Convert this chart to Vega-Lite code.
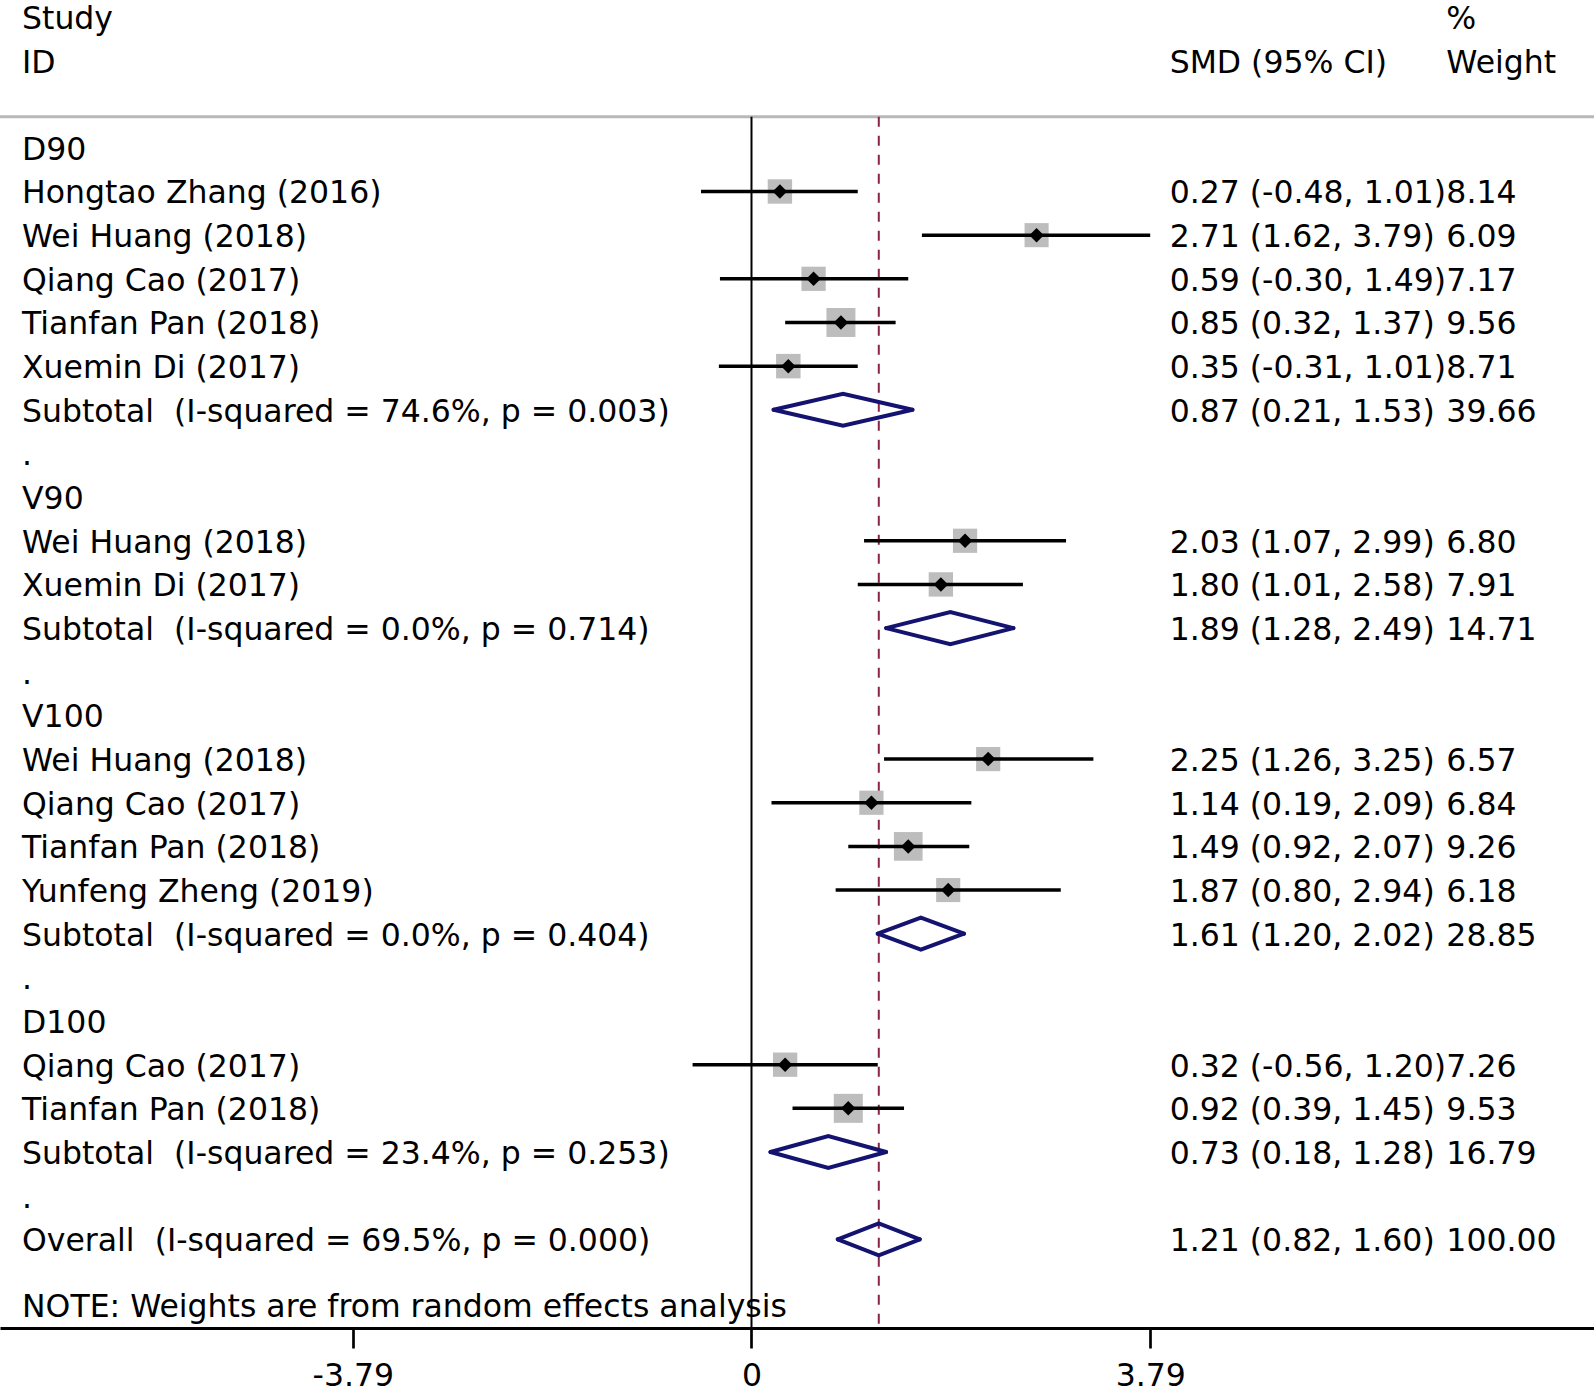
{
  "$schema": "https://vega.github.io/schema/vega-lite/v6.json",
  "width": 1594,
  "height": 1328,
  "autosize": {"type": "none"},
  "padding": {"left": 0, "top": 0, "right": 0, "bottom": 65},
  "background": "white",
  "config": {
    "view": {"stroke": null},
    "font": "DejaVu Sans",
    "text": {"font": "DejaVu Sans", "fontSize": 31.5, "color": "black"}
  },
  "datasets": {
    "forest": [
      {"row": -3, "label": "Study", "kind": "header", "wt": "%"},
      {"row": -2, "label": "ID", "kind": "header", "smd": "SMD (95% CI)", "wt": "Weight"},
      {"row": 0, "label": "D90", "kind": "group"},
      {"row": 1, "label": "Hongtao Zhang (2016)", "kind": "study", "est": 0.27, "lo": -0.48, "hi": 1.01, "w": 8.14, "smd": "0.27 (-0.48, 1.01)", "wt": "8.14"},
      {"row": 2, "label": "Wei Huang (2018)", "kind": "study", "est": 2.71, "lo": 1.62, "hi": 3.79, "w": 6.09, "smd": "2.71 (1.62, 3.79)", "wt": "6.09"},
      {"row": 3, "label": "Qiang Cao (2017)", "kind": "study", "est": 0.59, "lo": -0.30, "hi": 1.49, "w": 7.17, "smd": "0.59 (-0.30, 1.49)", "wt": "7.17"},
      {"row": 4, "label": "Tianfan Pan (2018)", "kind": "study", "est": 0.85, "lo": 0.32, "hi": 1.37, "w": 9.56, "smd": "0.85 (0.32, 1.37)", "wt": "9.56"},
      {"row": 5, "label": "Xuemin Di (2017)", "kind": "study", "est": 0.35, "lo": -0.31, "hi": 1.01, "w": 8.71, "smd": "0.35 (-0.31, 1.01)", "wt": "8.71"},
      {"row": 6, "label": "Subtotal\u00a0 (I-squared = 74.6%, p = 0.003)", "kind": "subtotal", "est": 0.87, "lo": 0.21, "hi": 1.53, "w": 39.66, "smd": "0.87 (0.21, 1.53)", "wt": "39.66"},
      {"row": 7, "label": ".", "kind": "dot"},
      {"row": 8, "label": "V90", "kind": "group"},
      {"row": 9, "label": "Wei Huang (2018)", "kind": "study", "est": 2.03, "lo": 1.07, "hi": 2.99, "w": 6.80, "smd": "2.03 (1.07, 2.99)", "wt": "6.80"},
      {"row": 10, "label": "Xuemin Di (2017)", "kind": "study", "est": 1.80, "lo": 1.01, "hi": 2.58, "w": 7.91, "smd": "1.80 (1.01, 2.58)", "wt": "7.91"},
      {"row": 11, "label": "Subtotal\u00a0 (I-squared = 0.0%, p = 0.714)", "kind": "subtotal", "est": 1.89, "lo": 1.28, "hi": 2.49, "w": 14.71, "smd": "1.89 (1.28, 2.49)", "wt": "14.71"},
      {"row": 12, "label": ".", "kind": "dot"},
      {"row": 13, "label": "V100", "kind": "group"},
      {"row": 14, "label": "Wei Huang (2018)", "kind": "study", "est": 2.25, "lo": 1.26, "hi": 3.25, "w": 6.57, "smd": "2.25 (1.26, 3.25)", "wt": "6.57"},
      {"row": 15, "label": "Qiang Cao (2017)", "kind": "study", "est": 1.14, "lo": 0.19, "hi": 2.09, "w": 6.84, "smd": "1.14 (0.19, 2.09)", "wt": "6.84"},
      {"row": 16, "label": "Tianfan Pan (2018)", "kind": "study", "est": 1.49, "lo": 0.92, "hi": 2.07, "w": 9.26, "smd": "1.49 (0.92, 2.07)", "wt": "9.26"},
      {"row": 17, "label": "Yunfeng Zheng (2019)", "kind": "study", "est": 1.87, "lo": 0.80, "hi": 2.94, "w": 6.18, "smd": "1.87 (0.80, 2.94)", "wt": "6.18"},
      {"row": 18, "label": "Subtotal\u00a0 (I-squared = 0.0%, p = 0.404)", "kind": "subtotal", "est": 1.61, "lo": 1.20, "hi": 2.02, "w": 28.85, "smd": "1.61 (1.20, 2.02)", "wt": "28.85"},
      {"row": 19, "label": ".", "kind": "dot"},
      {"row": 20, "label": "D100", "kind": "group"},
      {"row": 21, "label": "Qiang Cao (2017)", "kind": "study", "est": 0.32, "lo": -0.56, "hi": 1.20, "w": 7.26, "smd": "0.32 (-0.56, 1.20)", "wt": "7.26"},
      {"row": 22, "label": "Tianfan Pan (2018)", "kind": "study", "est": 0.92, "lo": 0.39, "hi": 1.45, "w": 9.53, "smd": "0.92 (0.39, 1.45)", "wt": "9.53"},
      {"row": 23, "label": "Subtotal\u00a0 (I-squared = 23.4%, p = 0.253)", "kind": "subtotal", "est": 0.73, "lo": 0.18, "hi": 1.28, "w": 16.79, "smd": "0.73 (0.18, 1.28)", "wt": "16.79"},
      {"row": 24, "label": ".", "kind": "dot"},
      {"row": 25, "label": "Overall\u00a0 (I-squared = 69.5%, p = 0.000)", "kind": "overall", "est": 1.21, "lo": 0.82, "hi": 1.60, "w": 100.00, "smd": "1.21 (0.82, 1.60)", "wt": "100.00"},
      {"row": 26.5, "label": "NOTE: Weights are from random effects analysis", "kind": "note"}
    ]
  },
  "data": {"name": "forest"},
  "encoding": {
    "y": {"field": "row", "type": "quantitative", "scale": {"domain": [-3.386, 27.031], "reverse": true, "nice": false, "zero": false}, "axis": null}
  },
  "layer": [
    {
      "transform": [{"filter": "datum.kind == 'overall'"}],
      "mark": {"type": "rule", "color": "#b8b8b8", "strokeWidth": 3},
      "encoding": {"y": {"datum": -0.713}}
    },
    {
      "transform": [{"filter": "datum.kind == 'overall'"}],
      "mark": {"type": "rule", "color": "black", "strokeWidth": 2},
      "encoding": {
        "x": {
          "datum": 0,
          "type": "quantitative",
          "scale": {"domain": [-7.1435, 8.0086], "nice": false, "zero": false},
          "axis": {
            "orient": "bottom",
            "values": [-3.79, 0, 3.79],
            "title": null,
            "grid": false,
            "domainColor": "black",
            "domainWidth": 3,
            "tickColor": "black",
            "tickWidth": 2.7,
            "tickSize": 20,
            "labelFont": "DejaVu Sans",
            "labelFontSize": 31.5,
            "labelColor": "black",
            "labelBaseline": "alphabetic",
            "labelPadding": 37,
            "labelFlush": false,
            "labelOverlap": false,
            "labelExpr": "datum.value == 0 ? '0' : (datum.value < 0 ? '-' : '') + format(abs(datum.value), '.2f')"
          }
        },
        "y": {"datum": -0.713},
        "y2": {"datum": 27.03}
      }
    },
    {
      "transform": [{"filter": "datum.kind == 'overall'"}],
      "mark": {"type": "rule", "color": "#8b2346", "strokeWidth": 2, "strokeDash": [10, 9]},
      "encoding": {
        "x": {"field": "est", "type": "quantitative", "title": null},
        "y": {"datum": -0.713},
        "y2": {"datum": 27.03}
      }
    },
    {
      "transform": [{"filter": "datum.kind == 'study'"}],
      "mark": {"type": "point", "shape": "square", "filled": true, "color": "#bdbdbd", "opacity": 1},
      "encoding": {
        "x": {"field": "est", "type": "quantitative", "title": null},
        "size": {"field": "w", "type": "quantitative", "scale": {"domain": [6, 8.8, 9.3], "range": [580, 600, 841], "clamp": true}, "legend": null}
      }
    },
    {
      "transform": [{"filter": "datum.kind == 'study'"}],
      "mark": {"type": "rule", "color": "black", "strokeWidth": 3.5},
      "encoding": {
        "x": {"field": "lo", "type": "quantitative", "title": null},
        "x2": {"field": "hi"}
      }
    },
    {
      "transform": [{"filter": "datum.kind == 'study'"}],
      "mark": {"type": "point", "shape": "diamond", "filled": true, "color": "black", "size": 210, "opacity": 1},
      "encoding": {
        "x": {"field": "est", "type": "quantitative", "title": null}
      }
    },
    {
      "transform": [
        {"filter": "datum.kind == 'subtotal' || datum.kind == 'overall'"},
        {"fold": ["lo", "est", "hi"], "as": ["k", "v"]}
      ],
      "mark": {"type": "line", "color": "#141470", "strokeWidth": 4, "strokeCap": "round", "yOffset": {"expr": "datum.k == 'est' ? -16 : 0"}},
      "encoding": {
        "x": {"field": "v", "type": "quantitative", "title": null},
        "detail": {"field": "label", "type": "nominal"}
      }
    },
    {
      "transform": [
        {"filter": "datum.kind == 'subtotal' || datum.kind == 'overall'"},
        {"fold": ["lo", "est", "hi"], "as": ["k", "v"]}
      ],
      "mark": {"type": "line", "color": "#141470", "strokeWidth": 4, "strokeCap": "round", "yOffset": {"expr": "datum.k == 'est' ? 16 : 0"}},
      "encoding": {
        "x": {"field": "v", "type": "quantitative", "title": null},
        "detail": {"field": "label", "type": "nominal"}
      }
    },
    {
      "transform": [{"filter": "isValid(datum.label)"}],
      "mark": {"type": "text", "align": "left", "baseline": "alphabetic", "dy": 12},
      "encoding": {
        "x": {"datum": -6.934, "type": "quantitative"},
        "text": {"field": "label", "type": "nominal"}
      }
    },
    {
      "transform": [{"filter": "isValid(datum.smd)"}],
      "mark": {"type": "text", "align": "left", "baseline": "alphabetic", "dy": 12},
      "encoding": {
        "x": {"datum": 3.975, "type": "quantitative"},
        "text": {"field": "smd", "type": "nominal"}
      }
    },
    {
      "transform": [{"filter": "isValid(datum.wt)"}],
      "mark": {"type": "text", "align": "left", "baseline": "alphabetic", "dy": 12},
      "encoding": {
        "x": {"datum": 6.605, "type": "quantitative"},
        "text": {"field": "wt", "type": "nominal"}
      }
    }
  ]
}
